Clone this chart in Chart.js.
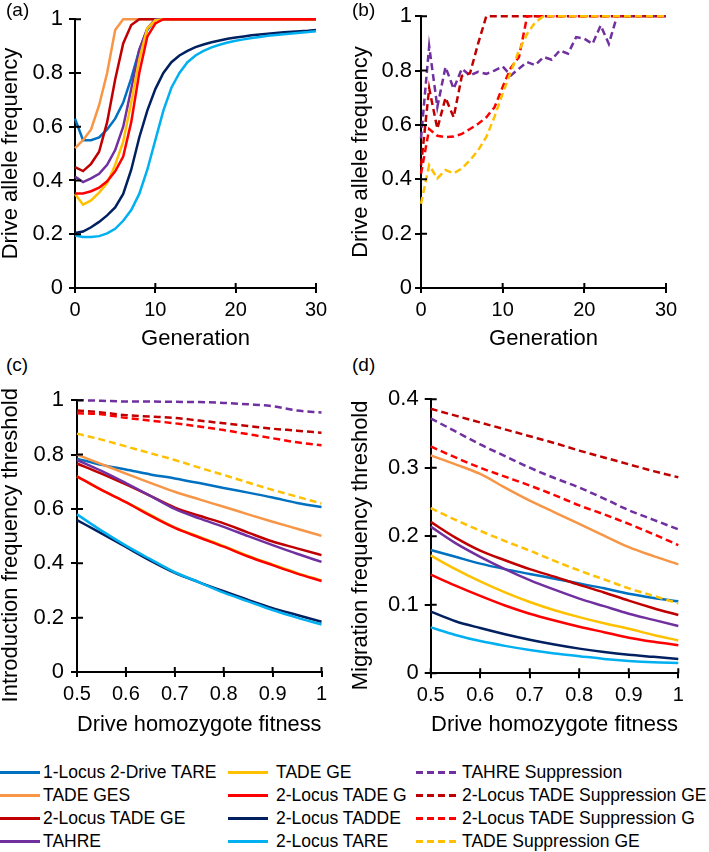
<!DOCTYPE html>
<html>
<head>
<meta charset="utf-8">
<script src="https://cdn.jsdelivr.net/npm/chart.js@4.4.1/dist/chart.umd.min.js"></script>
<style>
  body { margin: 0; background: #fff; font-family: "Liberation Sans", Arial, sans-serif; color: #000; }
  #wrap { position: relative; width: 709px; height: 852px; overflow: hidden; }
  canvas { position: absolute; }
  .plabel { position: absolute; font-size: 19px; line-height: 20px; }
  .leg { position: absolute; height: 20px; display: flex; align-items: center; font-size: 17.5px; white-space: nowrap; }
  .leg .sw { display: inline-block; width: 40px; height: 3px; flex: none; }
</style>
</head>
<body>
<div id="wrap">
  <canvas id="chartA" width="345" height="350" style="left:0;top:0"></canvas>
  <canvas id="chartB" width="359" height="350" style="left:350px;top:0"></canvas>
  <canvas id="chartC" width="345" height="356" style="left:0;top:380px"></canvas>
  <canvas id="chartD" width="359" height="356" style="left:350px;top:380px"></canvas>
  <div class="plabel" style="left:6px;top:0px">(a)</div>
  <div class="plabel" style="left:352px;top:0px">(b)</div>
  <div class="plabel" style="left:6px;top:355px">(c)</div>
  <div class="plabel" style="left:352px;top:355px">(d)</div>
  <div id="legend"></div>
</div>
<script>
// series, in legend order (later ones are drawn on top)
const names = ['1-Locus 2-Drive TARE', 'TADE GES', '2-Locus TADE GE', 'TAHRE',
  'TADE GE', '2-Locus TADE G', '2-Locus TADDE', '2-Locus TARE',
  'TAHRE Suppression', '2-Locus TADE Suppression GE', '2-Locus TADE Suppression G', 'TADE Suppression GE']
const colors = ['#0070C0', '#F79646', '#C00000', '#7030A0', '#FFC000', '#FF0000', '#002060', '#00B0F0',
  '#7030A0', '#C00000', '#FF0000', '#FFC000']
const dashed = [false, false, false, false, false, false, false, false, true, true, true, true]

const generations = [0, 1, 2, 3, 4, 5, 6, 7, 8, 9, 10, 11, 12, 13, 14, 15, 16, 17, 18, 19, 20, 21, 22, 23, 24, 25, 26, 27, 28, 29, 30]
const fitness = [0.5, 0.55, 0.6, 0.65, 0.7, 0.75, 0.8, 0.85, 0.9, 0.95, 1]

// (a) drive allele frequency by generation, standard drives
const a_tare1 = [0.63, 0.55, 0.55, 0.56, 0.59, 0.63, 0.69, 0.78, 0.885, 0.96, 1, 1, 1, 1, 1, 1, 1, 1, 1, 1, 1, 1, 1, 1, 1, 1, 1, 1, 1, 1, 1]
const a_tadeGES = [0.52, 0.55, 0.59, 0.68, 0.80, 0.96, 1, 1, 1, 1, 1, 1, 1, 1, 1, 1, 1, 1, 1, 1, 1, 1, 1, 1, 1, 1, 1, 1, 1, 1, 1]
const a_tadeGE2 = [0.45, 0.435, 0.462, 0.507, 0.617, 0.776, 0.91, 0.978, 1, 1, 1, 1, 1, 1, 1, 1, 1, 1, 1, 1, 1, 1, 1, 1, 1, 1, 1, 1, 1, 1, 1]
const a_tahre = [0.415, 0.394, 0.408, 0.425, 0.458, 0.513, 0.60, 0.74, 0.886, 0.966, 1, 1, 1, 1, 1, 1, 1, 1, 1, 1, 1, 1, 1, 1, 1, 1, 1, 1, 1, 1, 1]
const a_tadeGE = [0.35, 0.31, 0.326, 0.355, 0.39, 0.458, 0.544, 0.69, 0.85, 0.966, 0.996, 1, 1, 1, 1, 1, 1, 1, 1, 1, 1, 1, 1, 1, 1, 1, 1, 1, 1, 1, 1]
const a_tadeG2 = [0.352, 0.352, 0.36, 0.373, 0.397, 0.434, 0.489, 0.617, 0.80, 0.935, 0.984, 1, 1, 1, 1, 1, 1, 1, 1, 1, 1, 1, 1, 1, 1, 1, 1, 1, 1, 1, 1]
const a_tadde2 = [0.205, 0.21, 0.226, 0.246, 0.27, 0.30, 0.35, 0.44, 0.56, 0.66, 0.74, 0.80, 0.84, 0.865, 0.882, 0.896, 0.906, 0.914, 0.921, 0.927, 0.932, 0.936, 0.94, 0.943, 0.946, 0.949, 0.951, 0.953, 0.955, 0.957, 0.96]
const a_tare2 = [0.195, 0.19, 0.19, 0.193, 0.203, 0.22, 0.25, 0.29, 0.35, 0.44, 0.55, 0.66, 0.745, 0.80, 0.84, 0.865, 0.882, 0.895, 0.905, 0.913, 0.92, 0.925, 0.93, 0.934, 0.938, 0.941, 0.944, 0.947, 0.95, 0.952, 0.955]

// (b) suppression drives
const b_tahreS = [0.55, 0.89, 0.666, 0.813, 0.733, 0.807, 0.782, 0.795, 0.788, 0.80, 0.815, 0.782, 0.807, 0.831, 0.82, 0.85, 0.84, 0.874, 0.862, 0.923, 0.917, 0.898, 0.966, 0.898, 1, 1, 1, 1, 1, 1, 1]
const b_tadeSGE2 = [0.45, 0.735, 0.586, 0.70, 0.628, 0.78, 0.79, 0.90, 1, 1, 1, 1, 1, 1, 1, 1, 1, 1, 1, 1, 1, 1, 1, 1, 1, 1, 1, 1, 1, 1, 1]
const b_tadeSG2 = [0.42, 0.585, 0.56, 0.555, 0.557, 0.567, 0.585, 0.604, 0.628, 0.665, 0.74, 0.81, 0.85, 1, 1, 1, 1, 1, 1, 1, 1, 1, 1, 1, 1, 1, 1, 1, 1, 1, 1]
const b_tadeSGE = [0.31, 0.452, 0.403, 0.434, 0.422, 0.44, 0.47, 0.507, 0.556, 0.63, 0.715, 0.795, 0.874, 0.935, 0.978, 1, 1, 1, 1, 1, 1, 1, 1, 1, 1, 1, 1, 1, 1, 1, 1]

// (c) introduction frequency threshold by drive homozygote fitness
const c_tare1 = [0.785, 0.762, 0.745, 0.727, 0.712, 0.695, 0.677, 0.66, 0.642, 0.622, 0.607]
const c_tadeGES = [0.80, 0.765, 0.73, 0.696, 0.663, 0.635, 0.608, 0.58, 0.553, 0.527, 0.501]
const c_tadeGE2 = [0.767, 0.73, 0.69, 0.648, 0.605, 0.575, 0.547, 0.513, 0.48, 0.455, 0.43]
const c_tahre = [0.78, 0.74, 0.695, 0.648, 0.60, 0.565, 0.534, 0.5, 0.467, 0.435, 0.405]
const c_tadeGE = [0.72, 0.67, 0.625, 0.578, 0.532, 0.497, 0.463, 0.427, 0.395, 0.364, 0.337]
const c_tadeG2 = [0.72, 0.67, 0.625, 0.575, 0.53, 0.495, 0.461, 0.425, 0.393, 0.362, 0.335]
const c_tadde2 = [0.559, 0.51, 0.46, 0.41, 0.365, 0.33, 0.297, 0.265, 0.235, 0.21, 0.185]
const c_tare2 = [0.58, 0.52, 0.465, 0.415, 0.367, 0.33, 0.292, 0.26, 0.228, 0.2, 0.175]
const c_tahreS = [1.0, 0.998, 0.995, 0.995, 0.994, 0.993, 0.99, 0.985, 0.978, 0.962, 0.955]
const c_tadeSGE2 = [0.962, 0.955, 0.945, 0.94, 0.935, 0.925, 0.915, 0.905, 0.895, 0.888, 0.88]
const c_tadeSG2 = [0.952, 0.948, 0.935, 0.925, 0.915, 0.903, 0.89, 0.875, 0.86, 0.845, 0.834]
const c_tadeSGE = [0.877, 0.855, 0.83, 0.805, 0.78, 0.752, 0.725, 0.697, 0.67, 0.645, 0.62]

// (d) migration frequency threshold by drive homozygote fitness
const d_tare1 = [0.18, 0.17, 0.16, 0.152, 0.145, 0.138, 0.131, 0.124, 0.116, 0.11, 0.105]
const d_tadeGES = [0.318, 0.305, 0.291, 0.271, 0.252, 0.235, 0.218, 0.201, 0.184, 0.171, 0.159]
const d_tadeGE2 = [0.221, 0.198, 0.179, 0.165, 0.152, 0.141, 0.129, 0.118, 0.106, 0.095, 0.085]
const d_tahre = [0.214, 0.19, 0.17, 0.152, 0.136, 0.122, 0.109, 0.098, 0.087, 0.078, 0.069]
const d_tadeGE = [0.172, 0.152, 0.134, 0.118, 0.104, 0.092, 0.082, 0.073, 0.065, 0.056, 0.048]
const d_tadeG2 = [0.144, 0.128, 0.113, 0.099, 0.087, 0.077, 0.068, 0.06, 0.052, 0.046, 0.041]
const d_tadde2 = [0.09, 0.076, 0.066, 0.057, 0.049, 0.042, 0.036, 0.031, 0.027, 0.024, 0.021]
const d_tare2 = [0.067, 0.056, 0.047, 0.04, 0.034, 0.029, 0.025, 0.021, 0.018, 0.016, 0.015]
const d_tahreS = [0.372, 0.353, 0.334, 0.317, 0.30, 0.285, 0.271, 0.255, 0.238, 0.224, 0.21]
const d_tadeSGE2 = [0.386, 0.376, 0.366, 0.356, 0.346, 0.336, 0.325, 0.315, 0.305, 0.295, 0.286]
const d_tadeSG2 = [0.331, 0.315, 0.30, 0.287, 0.274, 0.26, 0.245, 0.232, 0.218, 0.203, 0.187]
const d_tadeSGE = [0.241, 0.224, 0.208, 0.193, 0.179, 0.164, 0.150, 0.137, 0.124, 0.113, 0.102]

const fontFamily = '"Liberation Sans", Arial, sans-serif'
Chart.defaults.font.family = fontFamily
Chart.defaults.color = '#000'

// plain tick text: 0, 0.2, 1 rather than 0.0, 0.2, 1.0
const tickText = v => String(Number(v.toFixed(2)))

// tick marks that cross the axes (the outer half comes from the grid ticks)
const crossTicks = {
    id: 'crossTicks',
    afterDatasetsDraw(chart) {
        const ctx = chart.ctx
        const xs = chart.scales.x, ys = chart.scales.y
        ctx.save()
        ctx.strokeStyle = '#000'
        ctx.lineWidth = 2
        ctx.beginPath()
        ys.ticks.forEach(t => {
            let py = ys.getPixelForValue(t.value)
            ctx.moveTo(xs.left, py); ctx.lineTo(xs.left + 6, py)
        })
        xs.ticks.forEach(t => {
            let px = xs.getPixelForValue(t.value)
            ctx.moveTo(px, ys.bottom); ctx.lineTo(px, ys.bottom - 5)
        })
        ctx.stroke()
        ctx.restore()
    }
}

function makePanel(id, xs, series, o) {
    const datasets = series.map(s => ({
        label: names[s.i],
        data: s.values.map((v, k) => ({ x: xs[k], y: v })),
        borderColor: colors[s.i],
        borderWidth: 2.5,
        borderDash: dashed[s.i] ? [7, 4] : [],
        pointRadius: 0,
        tension: 0,
        cubicInterpolationMode: o.smooth ? 'monotone' : 'default',
        clip: false,
        order: names.length - s.i
    }))
    return new Chart(document.getElementById(id), {
        type: 'line',
        data: { datasets: datasets },
        plugins: [crossTicks],
        options: {
            responsive: false,
            animation: false,
            devicePixelRatio: 1,
            layout: { padding: { top: o.padTop, right: o.padRight, left: 0, bottom: 0 } },
            plugins: { legend: { display: false }, tooltip: { enabled: false } },
            scales: {
                x: {
                    type: 'linear', min: o.xMin, max: o.xMax,
                    ticks: { stepSize: o.xStep, font: { size: 20 }, padding: 5, maxRotation: 0, autoSkip: false, callback: tickText },
                    grid: { drawOnChartArea: false, drawTicks: true, tickLength: 5, color: '#000', lineWidth: 2 },
                    border: { color: '#000', width: 2 },
                    title: { display: true, text: o.xTitle, font: { size: 22, lineHeight: 1 }, padding: { top: 0, bottom: 0 } },
                    afterFit: s => { s.height = o.xHeight }
                },
                y: {
                    min: 0, max: o.yMax,
                    ticks: { stepSize: o.yStep, font: { size: 22 }, padding: o.yPad, callback: tickText },
                    grid: { drawOnChartArea: false, drawTicks: true, tickLength: 6, color: '#000', lineWidth: 2 },
                    border: { color: '#000', width: 2 },
                    title: { display: true, text: o.yTitle, font: { size: 22, lineHeight: 1 }, padding: { top: 0, bottom: 0 } },
                    afterFit: s => { s.width = o.yWidth }
                }
            }
        }
    })
}

makePanel('chartA', generations, [
    { i: 0, values: a_tare1 }, { i: 1, values: a_tadeGES }, { i: 2, values: a_tadeGE2 }, { i: 3, values: a_tahre },
    { i: 4, values: a_tadeGE }, { i: 5, values: a_tadeG2 }, { i: 6, values: a_tadde2 }, { i: 7, values: a_tare2 }
], { xMin: 0, xMax: 30, xStep: 10, yMax: 1, yStep: 0.2, xTitle: 'Generation', yTitle: 'Drive allele frequency',
     padTop: 15.7, padRight: 29, yWidth: 75, xHeight: 62, yPad: 6 })

makePanel('chartB', generations, [
    { i: 8, values: b_tahreS }, { i: 9, values: b_tadeSGE2 }, { i: 10, values: b_tadeSG2 }, { i: 11, values: b_tadeSGE }
], { xMin: 0, xMax: 30, xStep: 10, yMax: 1, yStep: 0.2, xTitle: 'Generation', yTitle: 'Drive allele frequency',
     padTop: 15.7, padRight: 43, yWidth: 71, xHeight: 62, yPad: 3 })

// the lower panels' axis titles sit a little below the plot centre, hence the trailing spaces
makePanel('chartC', fitness, [
    { i: 0, values: c_tare1 }, { i: 1, values: c_tadeGES }, { i: 2, values: c_tadeGE2 }, { i: 3, values: c_tahre },
    { i: 4, values: c_tadeGE }, { i: 5, values: c_tadeG2 }, { i: 6, values: c_tadde2 }, { i: 7, values: c_tare2 },
    { i: 8, values: c_tahreS }, { i: 9, values: c_tadeSGE2 }, { i: 10, values: c_tadeSG2 }, { i: 11, values: c_tadeSGE }
], { xMin: 0.5, xMax: 1, xStep: 0.1, yMax: 1, yStep: 0.2, xTitle: 'Drive homozygote fitness',
     yTitle: 'Introduction frequency threshold\u00a0\u00a0\u00a0',
     padTop: 20, padRight: 23.5, yWidth: 77, xHeight: 64, yPad: 7, smooth: true })

makePanel('chartD', fitness, [
    { i: 0, values: d_tare1 }, { i: 1, values: d_tadeGES }, { i: 2, values: d_tadeGE2 }, { i: 3, values: d_tahre },
    { i: 4, values: d_tadeGE }, { i: 5, values: d_tadeG2 }, { i: 6, values: d_tadde2 }, { i: 7, values: d_tare2 },
    { i: 8, values: d_tahreS }, { i: 9, values: d_tadeSGE2 }, { i: 10, values: d_tadeSG2 }, { i: 11, values: d_tadeSGE }
], { xMin: 0.5, xMax: 1, xStep: 0.1, yMax: 0.4, yStep: 0.1, xTitle: 'Drive homozygote fitness',
     yTitle: 'Migration frequency threshold\u00a0\u00a0\u00a0',
     padTop: 18.3, padRight: 30.7, yWidth: 80.7, xHeight: 62.7, yPad: 6, smooth: true })

// legend: three columns of four, filled column by column
const legendCols = [{ sw: 0, text: 43 }, { sw: 228, text: 276 }, { sw: 416, text: 462 }]
const legendRows = [772, 795, 818, 841]
let legend = document.getElementById('legend')
names.forEach((name, i) => {
    let col = legendCols[Math.floor(i / 4)]
    let item = document.createElement('div')
    item.className = 'leg'
    item.style.left = col.sw + 'px'
    item.style.top = (legendRows[i % 4] - 10) + 'px'
    let sw = document.createElement('span')
    sw.className = 'sw'
    sw.style.background = dashed[i]
        ? `repeating-linear-gradient(to right, ${colors[i]} 0 7px, transparent 7px 11px)`
        : colors[i]
    sw.style.marginRight = (col.text - col.sw - 40) + 'px'
    item.appendChild(sw)
    item.appendChild(document.createTextNode(name))
    legend.appendChild(item)
})
</script>
</body>
</html>
